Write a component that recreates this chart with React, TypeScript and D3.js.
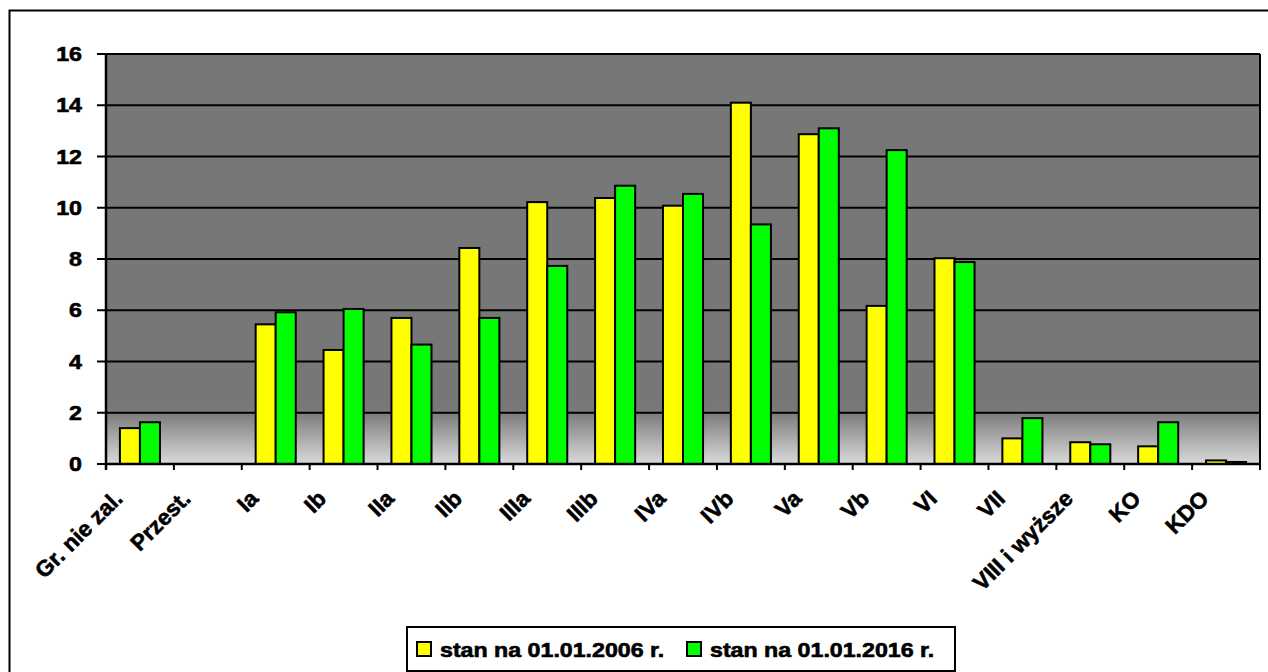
import React from "react";
import * as d3 from "d3";

const categories = ["Gr. nie zal.", "Przest.", "Ia", "Ib", "IIa", "IIb", "IIIa", "IIIb", "IVa", "IVb", "Va", "Vb", "VI", "VII", "VIII i wyższe", "KO", "KDO"];
const values2006 = [1.4, 0, 5.45, 4.45, 5.7, 8.43, 10.22, 10.38, 10.08, 14.1, 12.87, 6.17, 8.03, 1.0, 0.85, 0.69, 0.14];
const values2016 = [1.63, 0, 5.92, 6.05, 4.66, 5.7, 7.73, 10.86, 10.54, 9.35, 13.1, 12.25, 7.88, 1.79, 0.77, 1.63, 0.08];
const yTicks = [0, 2, 4, 6, 8, 10, 12, 14, 16];
const seriesNames = ["stan na 01.01.2006 r.", "stan na 01.01.2016 r."];
const seriesColors = ["#ffff00", "#00ff00"];

const W = 1268;
const H = 672;
const plot = { left: 106, right: 1260, top: 54, bottom: 464 };
const FONT = "'Liberation Sans', Arial, sans-serif";
const SX = 1.16;

export default function App() {
  const x = d3.scaleBand<string>().domain(categories).range([plot.left, plot.right]).paddingInner(0).paddingOuter(0);
  const y = d3.scaleLinear().domain([0, 16]).range([plot.bottom, plot.top]);
  const bw = x.bandwidth();
  const barW = bw * 0.295;
  const groupOffset = (bw - 2 * barW) / 2;
  const series = [values2006, values2016];
  const textProps = { fontWeight: "bold", fill: "#000", stroke: "#000", strokeWidth: 0.6 } as const;

  return (
    <svg width={W} height={H} style={{ position: "absolute", left: 0, top: 0, background: "#fff" }} fontFamily={FONT}>
      <defs>
        <linearGradient id="bg" x1="0" y1="0" x2="0" y2="1">
          <stop offset="0" stopColor="#777777" />
          <stop offset="0.86" stopColor="#777777" />
          <stop offset="0.88" stopColor="#7f7f7f" />
          <stop offset="1" stopColor="#dadada" />
        </linearGradient>
      </defs>
      {/* outer frame */}
      <rect x={9.5} y={10.5} width={1300} height={700} fill="#fff" stroke="#000" strokeWidth={2} />
      {/* plot background */}
      <rect x={plot.left} y={plot.top} width={plot.right - plot.left} height={plot.bottom - plot.top} fill="url(#bg)" />
      {/* gridlines */}
      {yTicks.map((t) => (
        <line key={"g" + t} x1={plot.left - 9} x2={plot.right} y1={y(t)} y2={y(t)} stroke="#000" strokeWidth={2} />
      ))}
      {/* right border */}
      <line x1={plot.right} x2={plot.right} y1={plot.top} y2={plot.bottom} stroke="#000" strokeWidth={2} />
      {/* y axis */}
      <line x1={plot.left} x2={plot.left} y1={plot.top - 1} y2={plot.bottom + 6} stroke="#000" strokeWidth={2.5} />
      {yTicks.map((t) => (
        <g key={"yl" + t} transform={`translate(82,${y(t) + 7}) scale(${SX},1)`}>
          <text textAnchor="end" fontSize={20} {...textProps}>{t}</text>
        </g>
      ))}
      {/* bars */}
      {categories.map((c, i) => (
        <g key={"b" + c}>
          {series.map((vals, s) => {
            const v = vals[i];
            const x0 = (x(c) as number) + groupOffset + s * barW;
            const top = y(v);
            const h = plot.bottom - top;
            return (
              <rect key={s} x={x0} y={top} width={barW} height={Math.max(h, 0)} fill={seriesColors[s]} stroke="#000" strokeWidth={2} />
            );
          })}
        </g>
      ))}
      {/* x axis */}
      <line x1={plot.left} x2={plot.right} y1={plot.bottom} y2={plot.bottom} stroke="#000" strokeWidth={2.5} />
      {categories.map((c, i) => (
        <line key={"xt" + i} x1={x(c) as number} x2={x(c) as number} y1={plot.bottom} y2={plot.bottom + 6} stroke="#000" strokeWidth={2} />
      ))}
      <line x1={plot.right} x2={plot.right} y1={plot.bottom} y2={plot.bottom + 6} stroke="#000" strokeWidth={2} />
      {categories.map((c) => {
        const cx = (x(c) as number) + bw / 2;
        return (
          <text key={"xl" + c} transform={`translate(${cx - 16},${plot.bottom + 36}) rotate(-45)`} textAnchor="end" fontSize={22.5} {...textProps}>
            {c}
          </text>
        );
      })}
      {/* legend */}
      <rect x={407} y={627} width={548} height={44} fill="#fff" stroke="#000" strokeWidth={2} />
      {seriesNames.map((n, i) => {
        const lx = i === 0 ? 417 : 687;
        return (
          <g key={"lg" + i}>
            <rect x={lx} y={642} width={14} height={14} fill={seriesColors[i]} stroke="#000" strokeWidth={2} />
            <g transform={`translate(${lx + 23},${657}) scale(${SX},1)`}>
              <text fontSize={20} {...textProps}>{n}</text>
            </g>
          </g>
        );
      })}
    </svg>
  );
}
